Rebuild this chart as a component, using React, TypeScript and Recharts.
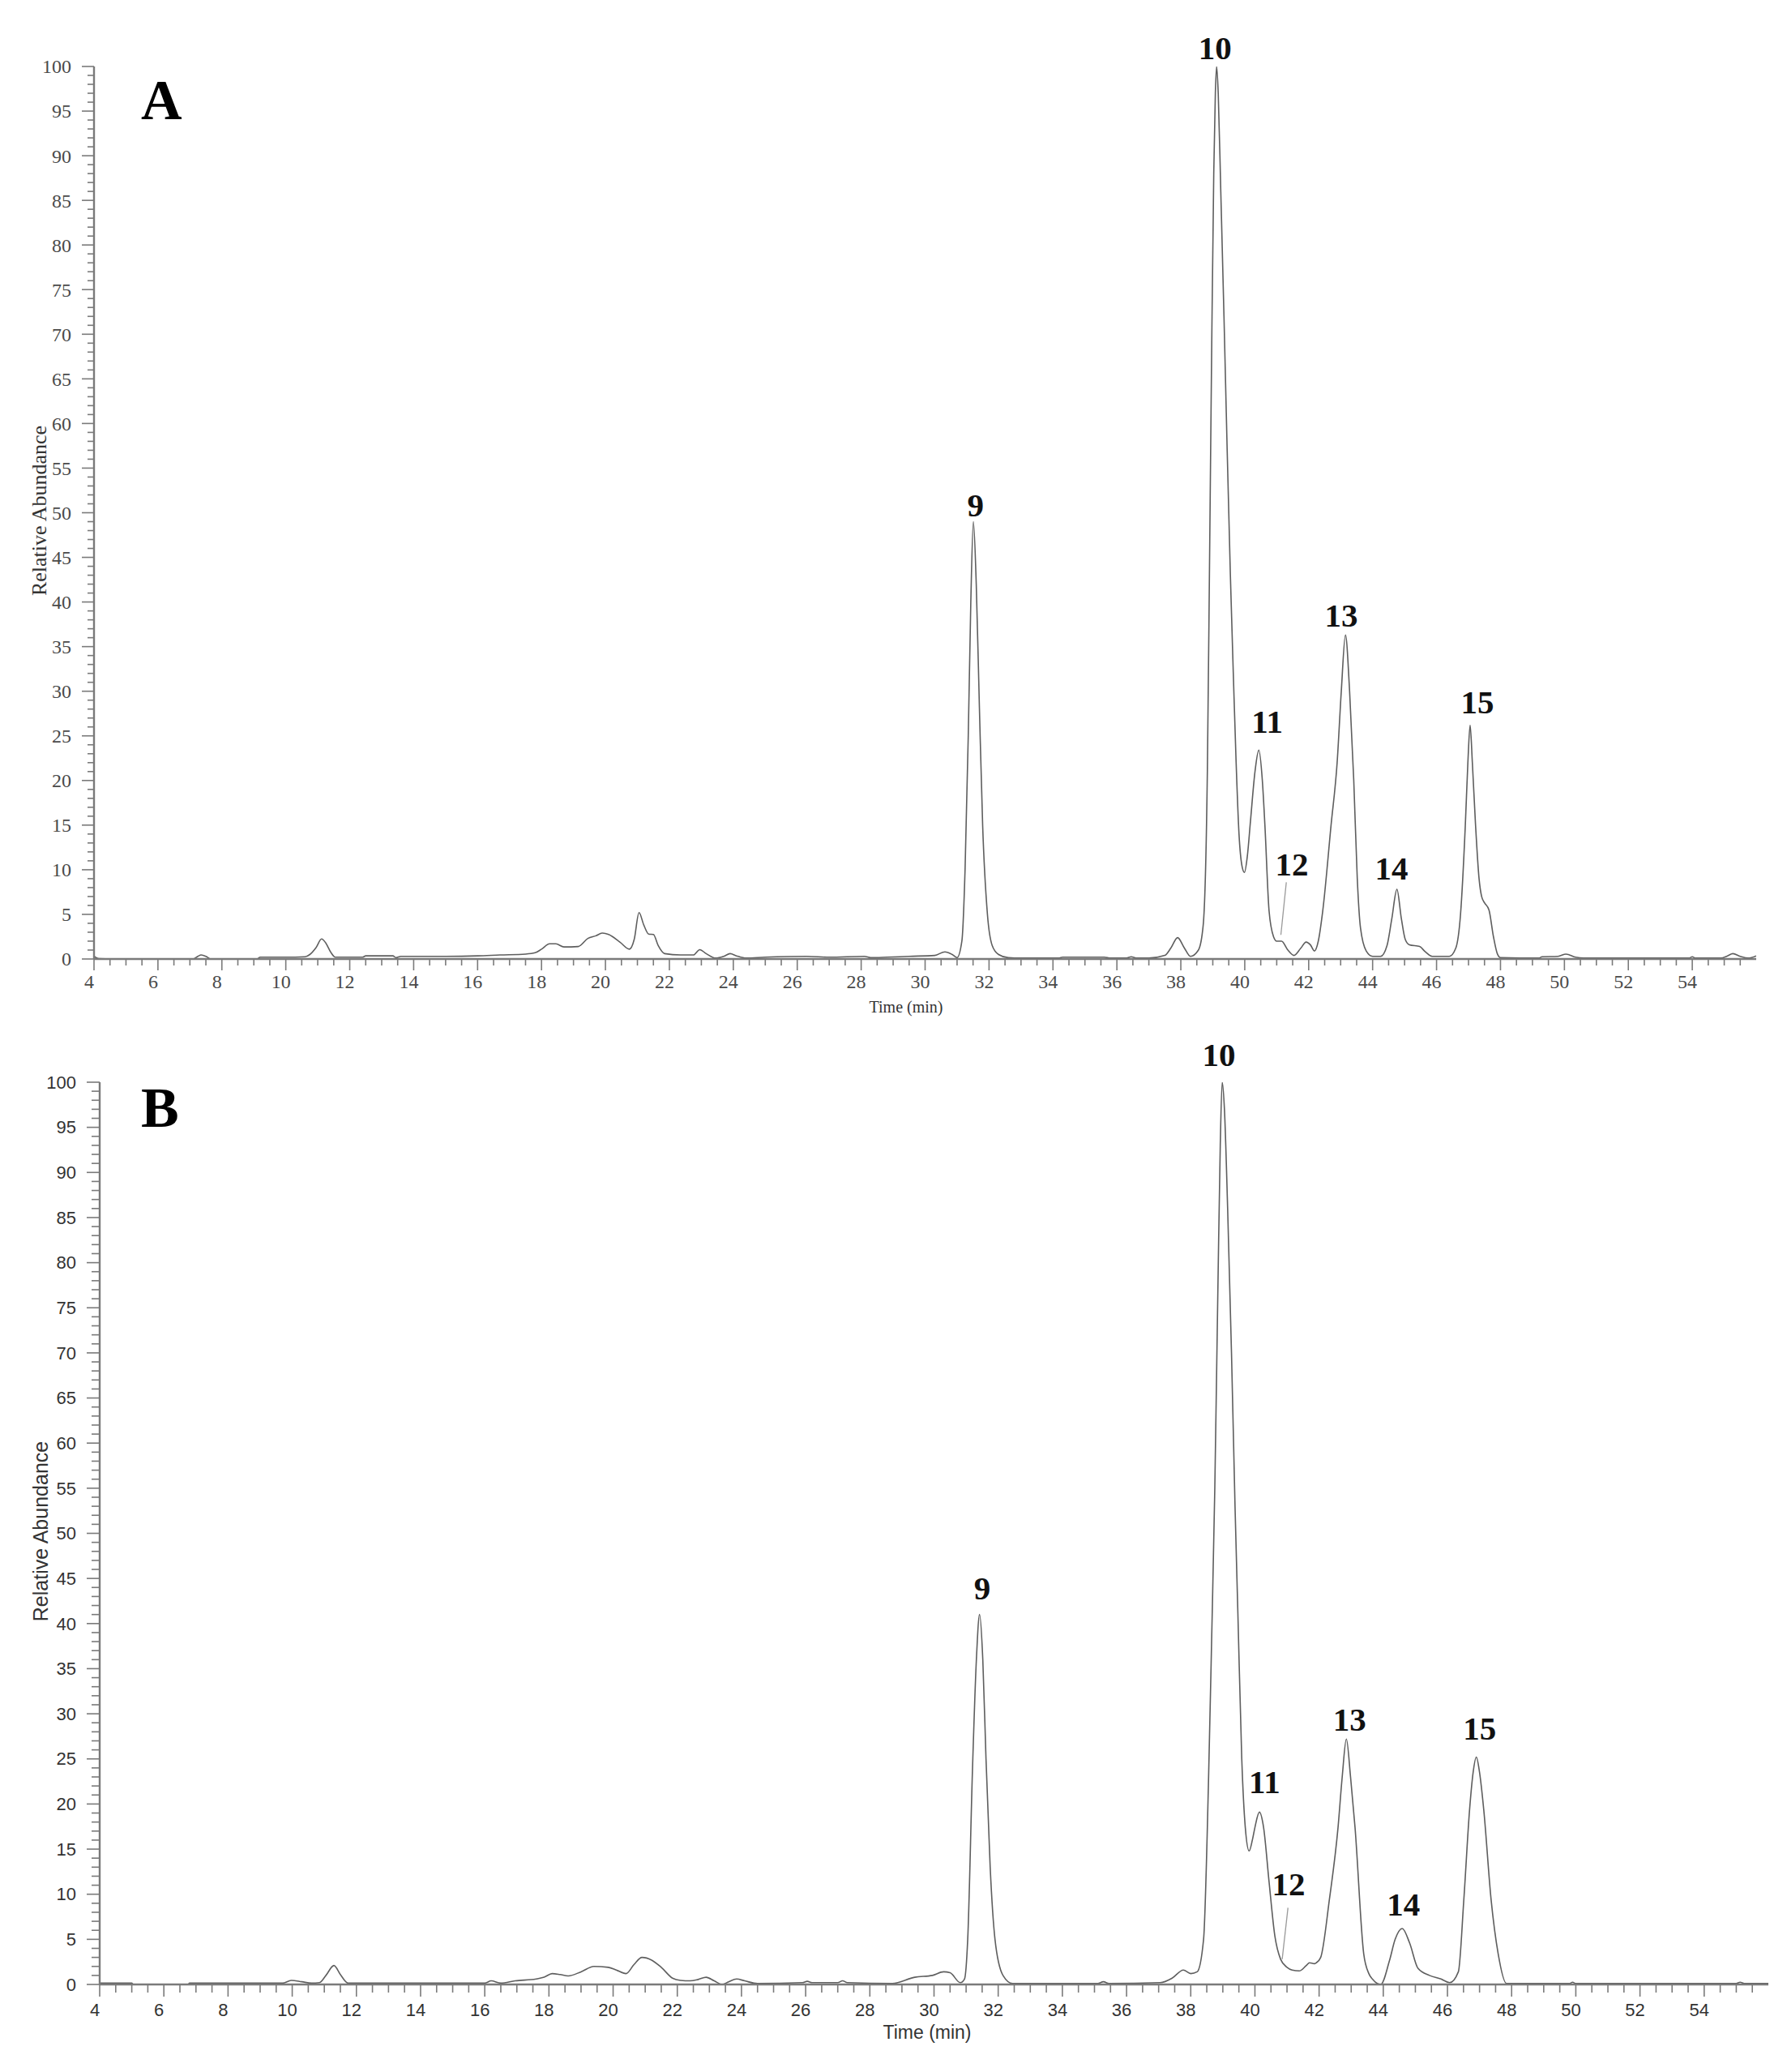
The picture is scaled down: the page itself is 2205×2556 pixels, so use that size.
import React from 'react';
import { LineChart, Line, XAxis, YAxis, ReferenceDot, ReferenceLine } from 'recharts';

// ---------- Panel A data (time in min, relative abundance %) ----------
const timeA = [
  4.0, 4.15, 5.0, 6.0, 7.1, 7.25, 7.35, 7.5, 7.65, 9.1, 9.2, 10.0, 10.6, 10.75, 10.95, 11.12, 11.25, 11.4, 11.55,
  12.4, 12.5, 13.35, 13.45, 13.6, 14.0, 15.0, 16.0, 16.7, 17.5, 17.8, 18.0, 18.25, 18.45, 18.7, 19.15, 19.45,
  19.7, 19.9, 20.1, 20.45, 20.75, 20.9, 21.05, 21.2, 21.35, 21.5, 21.65, 21.85, 22.35, 22.75, 22.95, 23.15,
  23.45, 23.7, 23.9, 24.1, 24.4, 25.0, 26.3, 27.0, 28.1, 28.3, 28.8, 29.5, 30.3, 30.62, 30.85, 31.0, 31.15,
  31.25, 31.35, 31.43, 31.51, 31.6, 31.7, 31.8, 31.95, 32.1, 32.3, 32.6, 33.0, 34.2, 34.3, 35.6, 35.8, 36.3,
  36.45, 36.6, 37.0, 37.5, 37.7, 37.9, 38.1, 38.3, 38.55, 38.7, 38.83, 38.9, 38.97, 39.03, 39.08, 39.12, 39.17,
  39.25, 39.35, 39.45, 39.55, 39.65, 39.73, 39.82, 39.92, 39.99, 40.08, 40.18, 40.32, 40.44, 40.55, 40.63,
  40.76, 40.9, 41.0, 41.15, 41.35, 41.54, 41.75, 41.92, 42.05, 42.18, 42.3, 42.44, 42.7, 42.89, 43.02, 43.15,
  43.28, 43.41, 43.52, 43.62, 43.8, 44.0, 44.25, 44.45, 44.6, 44.76, 44.9, 45.02, 45.15, 45.47, 45.65, 45.86,
  46.4, 46.6, 46.75, 46.9, 46.98, 47.05, 47.12, 47.22, 47.33, 47.41, 47.5, 47.64, 47.78, 47.9, 48.0, 49.2,
  49.3, 49.8, 50.05, 50.35, 50.6, 53.9, 54.0, 54.1, 54.9, 55.1, 55.27, 55.5, 55.75, 56.0,
];
const abundanceA = [
  0.3, 0.05, 0.0, 0.0, 0.0, 0.3, 0.45, 0.3, 0.0, 0.0, 0.2, 0.2, 0.25, 0.5, 1.3, 2.25, 1.8, 0.8, 0.2,
  0.2, 0.35, 0.35, 0.15, 0.3, 0.3, 0.3, 0.35, 0.45, 0.55, 0.7, 1.1, 1.7, 1.7, 1.35, 1.4, 2.3,
  2.6, 2.9, 2.75, 1.9, 1.1, 2.2, 5.2, 3.8, 2.8, 2.75, 1.5, 0.6, 0.45, 0.45, 1.05, 0.6,
  0.1, 0.3, 0.6, 0.35, 0.1, 0.2, 0.3, 0.2, 0.3, 0.15, 0.2, 0.3, 0.4, 0.8, 0.5, 0.15, 2,
  10, 25, 40, 49, 42, 28, 15, 5, 1.5, 0.5, 0.15, 0.1, 0.1, 0.2, 0.2, 0.1, 0.1,
  0.25, 0.1, 0.1, 0.4, 1.3, 2.4, 1.3, 0.3, 1.0, 3.8, 21, 45, 70, 88, 97, 100, 97,
  86, 72, 57, 43, 31, 22, 14, 10.3, 9.7, 11.5, 15.5, 21, 23.4, 20, 15,
  5.4, 2.5, 2.0, 2.0, 1.0, 0.4, 1.2, 1.9, 1.6, 0.9, 2.0, 5.4, 15, 22, 30, 36.3,
  30, 20, 9, 3.5, 0.9, 0.3, 0.3, 1.5, 4.5, 7.8, 4.5, 2.2, 1.6, 1.4, 0.8, 0.3,
  0.3, 1.2, 5, 15, 22, 26.2, 22, 15, 9, 7, 6.3, 5.5, 2.5, 0.6, 0.15, 0.1,
  0.25, 0.3, 0.55, 0.2, 0.1, 0.1, 0.25, 0.1, 0.1, 0.35, 0.6, 0.3, 0.1, 0.35,
];

// ---------- Panel B data ----------
const timeB = [
  4.0, 5.0, 5.05, 6.75, 6.8, 9.7, 9.97, 10.3, 10.6, 10.85, 11.05, 11.3, 11.5, 11.74, 16.0, 16.2, 16.5, 16.95,
  17.6, 17.85, 18.1, 18.35, 18.6, 19.0, 19.4, 19.85, 20.1, 20.4, 20.65, 20.9, 21.2, 21.5, 21.85, 22.1, 22.4,
  22.65, 22.9, 23.15, 23.4, 23.6, 23.85, 24.1, 24.5, 25.9, 26.05, 26.2, 27.0, 27.15, 27.3, 28.7, 29.4, 29.95,
  30.3, 30.5, 30.82, 30.95, 31.05, 31.2, 31.32, 31.42, 31.52, 31.62, 31.75, 31.9, 32.15, 32.45, 35.1, 35.28,
  35.45, 37.05, 37.42, 37.77, 38.0, 38.2, 38.4, 38.55, 38.65, 38.75, 38.85, 38.92, 38.98, 39.05, 39.15, 39.27,
  39.38, 39.47, 39.59, 39.7, 39.82, 39.92, 40.0, 40.14, 40.27, 40.44, 40.62, 40.8, 41.0, 41.16, 41.38, 41.6,
  41.7, 41.85, 41.91, 42.05, 42.32, 42.59, 42.72, 42.85, 42.98, 43.12, 43.39, 43.55, 43.66, 43.92, 44.19,
  44.37, 44.59, 44.82, 45.08, 45.44, 45.8, 46.07, 46.34, 46.51, 46.69, 46.8, 46.9, 47.0, 47.13, 47.36, 47.58,
  47.84, 49.8, 49.9, 50.0, 55.0, 55.12, 55.25, 56.0,
];
const abundanceB = [
  0.15, 0.15, 0.0, 0.0, 0.15, 0.15, 0.45, 0.3, 0.15, 0.2, 1.0, 2.1, 1.1, 0.15, 0.15, 0.4, 0.15, 0.4,
  0.6, 0.8, 1.2, 1.1, 0.95, 1.4, 2.0, 1.9, 1.6, 1.2, 2.2, 3.0, 2.7, 1.9, 0.7, 0.45, 0.4,
  0.55, 0.8, 0.4, 0.0, 0.3, 0.6, 0.4, 0.1, 0.2, 0.35, 0.2, 0.2, 0.4, 0.2, 0.1, 0.8, 1.0,
  1.4, 1.3, 0.2, 0.6, 5, 24, 36, 41, 36, 25, 13, 5, 1, 0.1, 0.1, 0.3,
  0.1, 0.2, 0.7, 1.6, 1.2, 1.4, 5, 22, 38, 55, 78, 93, 100, 97, 86, 70,
  53, 41, 25, 17.4, 14.8, 16, 17.4, 19.1, 17.4, 11.4, 5.4, 2.8, 1.9, 1.6, 1.5, 2.1,
  2.4, 2.3, 2.4, 3, 9.4, 17.4, 23, 27.2, 23, 17.4, 3.4, 1.2, 0.6, 0, 2.6,
  5, 6.2, 4.6, 1.8, 1.0, 0.6, 0.2, 1.4, 9.4, 19.4, 23.5, 25.2, 23.5, 19.4, 9.4, 3.4,
  0.1, 0.1, 0.25, 0.1, 0.1, 0.25, 0.1, 0.1,
];

// ---------- Tick labels ----------
const xTickLabels = [4, 6, 8, 10, 12, 14, 16, 18, 20, 22, 24, 26, 28, 30, 32, 34, 36, 38, 40, 42, 44, 46, 48, 50, 52, 54];
const yTickLabels = [0, 5, 10, 15, 20, 25, 30, 35, 40, 45, 50, 55, 60, 65, 70, 75, 80, 85, 90, 95, 100];

// ---------- Peak annotations ----------
const peakNames = ['9', '10', '11', '12', '13', '14', '15'];
const peakTimeA = [31.58, 39.07, 40.7, 41.47, 43.02, 44.59, 47.28];
const peakLabelLevelA = [49.6, 100.8, 25.3, 9.4, 37.2, 8.9, 27.5];
const peakTimeB = [31.5, 38.88, 40.3, 41.05, 42.95, 44.63, 47.0];
const peakLabelLevelB = [42.7, 101.8, 21.2, 9.9, 28.1, 7.6, 27.1];
const leaderA = [{ x: 41.3, y: 8.6 }, { x: 41.13, y: 2.7 }];
const leaderB = [{ x: 41.03, y: 8.5 }, { x: 40.85, y: 2.8 }];

const minorX: number[] = [];
for (let i = 0; i <= 103; i++) minorX.push(4 + i * 0.5);
const minorY: number[] = [];
for (let i = 0; i <= 100; i++) minorY.push(i);

const dataA = timeA.map((t, i) => ({ t, v: abundanceA[i] }));
const dataB = timeB.map((t, i) => ({ t, v: abundanceB[i] }));

type PanelStyle = {
  font: string;
  tickSize: number;
  tickColor: string;
  xLabelDy: number;
  xMajor: number;
  xMinor: number;
  yMajor: number;
  yMinor: number;
  yLabelGap: number;
};

const styleA: PanelStyle = {
  font: '"Liberation Serif", "Times New Roman", serif',
  tickSize: 24,
  tickColor: '#4a4a4a',
  xLabelDy: 36,
  xMajor: 14,
  xMinor: 8,
  yMajor: 15,
  yMinor: 8,
  yLabelGap: 28,
};
const styleB: PanelStyle = {
  font: '"Liberation Sans", Arial, sans-serif',
  tickSize: 22,
  tickColor: '#333333',
  xLabelDy: 39,
  xMajor: 15,
  xMinor: 10,
  yMajor: 16,
  yMinor: 10,
  yLabelGap: 29,
};

const makeXTick = (s: PanelStyle) => (props: any) => {
  const { x, y, payload } = props;
  const v = payload.value as number;
  const major = xTickLabels.includes(v);
  return (
    <g>
      <line x1={x} x2={x} y1={y} y2={y + (major ? s.xMajor : s.xMinor)} stroke="#7a7a7a" strokeWidth={1.6} />
      {major && (
        <text x={x - 6} y={y + s.xLabelDy} textAnchor="middle" fontFamily={s.font} fontSize={s.tickSize} fill={s.tickColor}>
          {v}
        </text>
      )}
    </g>
  );
};

const makeYTick = (s: PanelStyle) => (props: any) => {
  const { x, y, payload } = props;
  const v = payload.value as number;
  const major = yTickLabels.includes(v);
  return (
    <g>
      <line x1={x - (major ? s.yMajor : s.yMinor)} x2={x} y1={y} y2={y} stroke="#7a7a7a" strokeWidth={1.6} />
      {major && (
        <text x={x - s.yLabelGap} y={y} dy="0.35em" textAnchor="end" fontFamily={s.font} fontSize={s.tickSize} fill={s.tickColor}>
          {v}
        </text>
      )}
    </g>
  );
};

const peakFont = '"Liberation Serif", "Times New Roman", serif';

function Panel(props: {
  data: { t: number; v: number }[];
  s: PanelStyle;
  width: number;
  height: number;
  margin: { top: number; right: number; bottom: number; left: number };
  yAxisWidth: number;
  xAxisHeight: number;
  peakTime: number[];
  peakLevel: number[];
  leader: { x: number; y: number }[];
}) {
  const { data, s } = props;
  return (
    <LineChart width={props.width} height={props.height} data={data} margin={props.margin}>
      <XAxis
        dataKey="t"
        type="number"
        domain={[4, 56]}
        allowDataOverflow
        ticks={minorX}
        interval={0}
        tickSize={0}
        tickMargin={0}
        tickLine={false}
        height={props.xAxisHeight}
        axisLine={{ stroke: '#7a7a7a', strokeWidth: 2.4 }}
        tick={makeXTick(s)}
      />
      <YAxis
        type="number"
        domain={[0, 100]}
        allowDataOverflow
        ticks={minorY}
        interval={0}
        tickSize={0}
        tickMargin={0}
        tickLine={false}
        width={props.yAxisWidth}
        axisLine={{ stroke: '#7a7a7a', strokeWidth: 2.4 }}
        tick={makeYTick(s)}
      />
      <Line
        dataKey="v"
        type="monotone"
        dot={false}
        activeDot={false}
        stroke="#5e5e5e"
        strokeWidth={1.6}
        isAnimationActive={false}
      />
      <ReferenceLine segment={props.leader} stroke="#9a9a9a" strokeWidth={1.3} ifOverflow="visible" />
      {peakNames.map((name, i) => (
        <ReferenceDot
          key={name}
          x={props.peakTime[i]}
          y={props.peakLevel[i]}
          r={0}
          ifOverflow="visible"
          shape={(p: any) => (
            <text x={p.cx} y={p.cy} textAnchor="middle" fontFamily={peakFont} fontWeight="bold" fontSize={41} fill="#111">
              {name}
            </text>
          )}
        />
      ))}
    </LineChart>
  );
}

export default function App() {
  return (
    <div style={{ position: 'absolute', left: 0, top: 0, width: 2205, height: 2556, background: '#fff' }}>
      <div style={{ position: 'absolute', left: 0, top: 0 }}>
        <Panel
          data={dataA}
          s={styleA}
          width={2205}
          height={1280}
          margin={{ top: 82, right: 38, bottom: 0, left: 0 }}
          yAxisWidth={116}
          xAxisHeight={97}
          peakTime={peakTimeA}
          peakLevel={peakLabelLevelA}
          leader={leaderA}
        />
      </div>
      <div style={{ position: 'absolute', left: 0, top: 1270 }}>
        <Panel
          data={dataB}
          s={styleB}
          width={2205}
          height={1286}
          margin={{ top: 65, right: 23, bottom: 0, left: 0 }}
          yAxisWidth={123}
          xAxisHeight={108}
          peakTime={peakTimeB}
          peakLevel={peakLabelLevelB}
          leader={leaderB}
        />
      </div>
      <svg width={2205} height={2556} style={{ position: 'absolute', left: 0, top: 0, pointerEvents: 'none' }}>
        <text x={174} y={147} fontFamily={peakFont} fontWeight="bold" fontSize={70} fill="#000">A</text>
        <text x={174} y={1390} fontFamily={peakFont} fontWeight="bold" fontSize={70} fill="#000">B</text>
        <text x={57} y={630} transform="rotate(-90 57 630)" textAnchor="middle" fontFamily={styleA.font} fontSize={26} fill="#333">
          Relative Abundance
        </text>
        <text x={59} y={1889} transform="rotate(-90 59 1889)" textAnchor="middle" fontFamily={styleB.font} fontSize={25} fill="#333">
          Relative Abundance
        </text>
        <text x={1118} y={1249} textAnchor="middle" fontFamily={styleA.font} fontSize={20} fill="#333">Time (min)</text>
        <text x={1144} y={2515} textAnchor="middle" fontFamily={styleB.font} fontSize={23} fill="#333">Time (min)</text>
      </svg>
    </div>
  );
}
